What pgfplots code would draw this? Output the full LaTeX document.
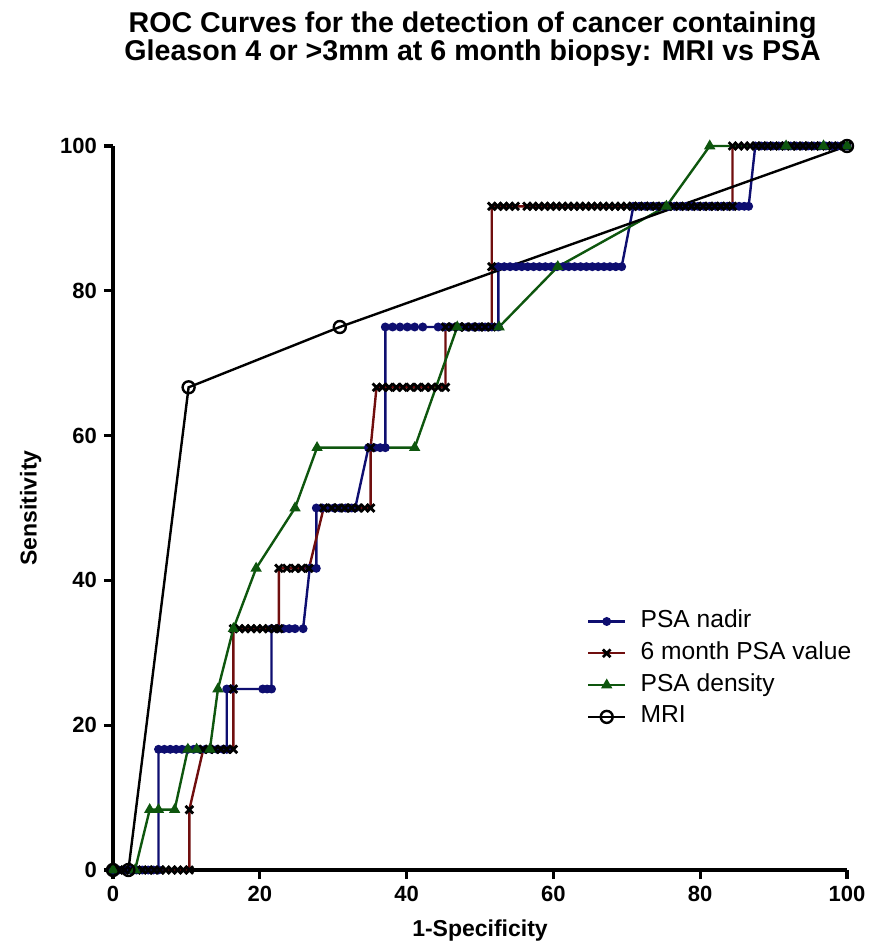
\documentclass[border=0pt]{standalone}
\usepackage{fontspec}
\setmainfont{Liberation Sans}
\usepackage{pgfplots}
\pgfplotsset{compat=1.18}
\definecolor{nadir}{RGB}{14,14,112}
\definecolor{sixm}{RGB}{112,14,14}
\definecolor{dens}{RGB}{14,86,14}

\begin{document}
\begin{tikzpicture}
\begin{axis}[
  name=ax,
  scale only axis,
  width=367pt, height=362pt,
  xmin=0, xmax=100, ymin=0, ymax=100,
  clip=false,
  axis lines=left,
  axis line style={-, line width=2.4pt},
  xtick={0,20,...,100}, ytick={0,20,...,100},
  tick align=outside,
  major tick length=4.5pt,
  tick style={line width=1.6pt, black},
  ticklabel style={font=\bfseries\fontsize{11}{11}\selectfont},
  /pgf/number format/assume math mode=true,
  xlabel={1-Specificity}, ylabel={Sensitivity},
  xlabel style={font=\bfseries\fontsize{11.5}{11.5}\selectfont, at={(0.5,-0.084)}, anchor=center},
  ylabel style={font=\bfseries\fontsize{11.5}{11.5}\selectfont, at={(-0.112,0.5)}, anchor=center},
  title={ROC Curves for the detection of cancer containing\\Gleason 4 or >3mm at 6 month biopsy: MRI vs PSA},
  title style={font=\bfseries\fontsize{14.3}{13.6}\selectfont, align=center, at={(0.49,1.131)}, anchor=center},
  legend style={at={(axis cs:64.5,35.9)}, anchor=north west, draw=none, fill=none, inner sep=0pt,
    font=\fontsize{12.3}{12.3}\selectfont, row sep=4.9pt, column sep=7pt,
    nodes={inner sep=0pt, text height=8.5pt, text depth=2.5pt}},
  legend cell align=left,
  legend image code/.code={\draw[mark repeat=2,mark phase=2] plot coordinates {(0pt,0pt)(9.35pt,0pt)(18.7pt,0pt)};},
]

% PSA nadir
\addplot[nadir, line width=1.2pt, mark=*, mark size=1.6pt, mark options={nadir}] coordinates {
(0,0)(0.8,0)(1.6,0)(2.4,0)(3.2,0)(4.0,0)(4.8,0)(5.5,0)(6.2,0)
(6.2,16.67)(7.0,16.67)(7.8,16.67)(8.6,16.67)(9.4,16.67)(10.2,16.67)(11.0,16.67)(11.8,16.67)(12.6,16.67)(13.4,16.67)(14.2,16.67)(15.0,16.67)(15.5,16.67)
(15.5,25)(16.1,25)(20.4,25)(21.0,25)(21.6,25)
(21.6,33.33)(22.4,33.33)(23.2,33.33)(24.0,33.33)(24.8,33.33)(25.9,33.33)
(26.8,41.67)(27.7,41.67)
(27.7,50)(28.5,50)(29.3,50)(30.1,50)(30.9,50)(31.7,50)(32.5,50)(33.0,50)
(34.8,58.33)(35.6,58.33)(36.4,58.33)(37.1,58.33)
(37.1,75)(38.1,75)(39.1,75)(40.1,75)(41.1,75)(42.2,75)(44.3,75)(45.1,75)(45.9,75)(46.7,75)(47.5,75)(48.3,75)(49.1,75)(49.9,75)(50.7,75)(51.6,75)(52.5,75)
(52.5,83.33)(53.3,83.33)(54.1,83.33)(54.9,83.33)(55.7,83.33)(56.5,83.33)(57.3,83.33)(58.1,83.33)(58.9,83.33)(59.7,83.33)(60.5,83.33)(61.3,83.33)(62.1,83.33)(62.9,83.33)(63.7,83.33)(64.5,83.33)(65.3,83.33)(66.1,83.33)(66.9,83.33)(67.7,83.33)(68.5,83.33)(69.3,83.33)
(70.9,91.67)(71.7,91.67)(72.5,91.67)(73.3,91.67)(74.1,91.67)(74.9,91.67)(75.7,91.67)(76.5,91.67)(77.3,91.67)(78.1,91.67)(78.9,91.67)(79.7,91.67)(80.5,91.67)(81.3,91.67)(82.1,91.67)(82.9,91.67)(83.7,91.67)(84.5,91.67)(85.3,91.67)(86.0,91.67)(86.6,91.67)
(87.5,100)(88.3,100)(89.1,100)(89.9,100)(90.7,100)(91.5,100)(92.3,100)(93.1,100)(93.9,100)(94.7,100)(95.5,100)(96.3,100)(97.1,100)(97.9,100)(98.7,100)(99.4,100)(100,100)
};
\addlegendentry{PSA nadir}

% 6 month PSA value
\addplot[sixm, line width=1.2pt, mark=x, mark size=2.7pt, mark options={black, line width=1.4pt}] coordinates {
(0,0)(0.8,0)(1.6,0)(2.4,0)(3.2,0)(4.0,0)(4.8,0)(5.6,0)(6.4,0)(7.2,0)(8.0,0)(8.8,0)(9.6,0)(10.4,0)
(10.4,8.33)
(12.3,16.67)(13.1,16.67)(13.9,16.67)(14.7,16.67)(15.5,16.67)(16.4,16.67)
(16.4,25)
(16.4,33.33)(17.2,33.33)(18.0,33.33)(18.8,33.33)(19.6,33.33)(20.4,33.33)(21.2,33.33)(22.0,33.33)(22.6,33.33)
(22.6,41.67)(23.7,41.67)(24.8,41.67)(25.7,41.67)(26.7,41.67)
(28.7,50)(29.8,50)(30.7,50)(31.6,50)(32.5,50)(33.4,50)(34.3,50)(35.1,50)
(35.1,58.33)
(35.9,66.67)(36.7,66.67)(37.6,66.67)(38.6,66.67)(39.5,66.67)(40.5,66.67)(41.5,66.67)(42.5,66.67)(43.4,66.67)(44.3,66.67)(45.3,66.67)
(45.3,75)(46.2,75)(47.1,75)(48.0,75)(48.9,75)(49.8,75)(50.7,75)(51.6,75)
(51.6,83.33)
(51.6,91.67)(52.4,91.67)(53.2,91.67)(54.0,91.67)(54.8,91.67)(56.4,91.67)(57.2,91.67)(58.0,91.67)(58.8,91.67)(59.6,91.67)(60.4,91.67)(61.2,91.67)(62.0,91.67)(62.8,91.67)(63.6,91.67)(64.4,91.67)(65.2,91.67)(66.0,91.67)(66.8,91.67)(67.6,91.67)(68.4,91.67)(69.2,91.67)(70.0,91.67)(70.8,91.67)(71.6,91.67)(72.4,91.67)(73.2,91.67)(74.0,91.67)(74.8,91.67)(75.6,91.67)(76.4,91.67)(77.2,91.67)(78.0,91.67)(78.8,91.67)(79.6,91.67)(80.4,91.67)(81.2,91.67)(82.0,91.67)(82.8,91.67)(83.6,91.67)(84.4,91.67)
(84.4,100)(85.2,100)(86.0,100)(86.8,100)(87.6,100)(88.4,100)(89.2,100)(90.0,100)(90.8,100)(91.6,100)(92.4,100)(93.2,100)(94.0,100)(94.8,100)(95.6,100)(96.4,100)(97.2,100)(98.0,100)(98.8,100)(100,100)
};
\addlegendentry{6 month PSA value}

% PSA density
\addplot[dens, line width=1.2pt, mark=triangle*, mark size=2.1pt, mark options={dens}] coordinates {
(0,0)(3.0,0)(5.0,8.33)(6.2,8.33)(8.4,8.33)(10.2,16.67)(11.4,16.67)(13.2,16.67)
(14.3,25)(16.4,33.33)(19.5,41.67)(24.8,50)(27.8,58.33)(41.1,58.33)(46.9,75)(52.6,75)
(60.6,83.33)(75.4,91.67)(81.3,100)(91.7,100)(96.8,100)(100,100)
};
\addlegendentry{PSA density}

% MRI
\addplot[black, line width=1.2pt, mark=o, mark size=3pt, mark options={black, line width=1.2pt}] coordinates {
(0,0)(2.1,0)(10.3,66.67)(30.9,75)(100,100)
};
\addlegendentry{MRI}

\end{axis}
\pgfresetboundingbox
\path[use as bounding box] ([xshift=-56.5pt,yshift=-36.5pt]ax.south west) rectangle ([xshift=11pt,yshift=73pt]ax.north east);
\end{tikzpicture}
\end{document}
